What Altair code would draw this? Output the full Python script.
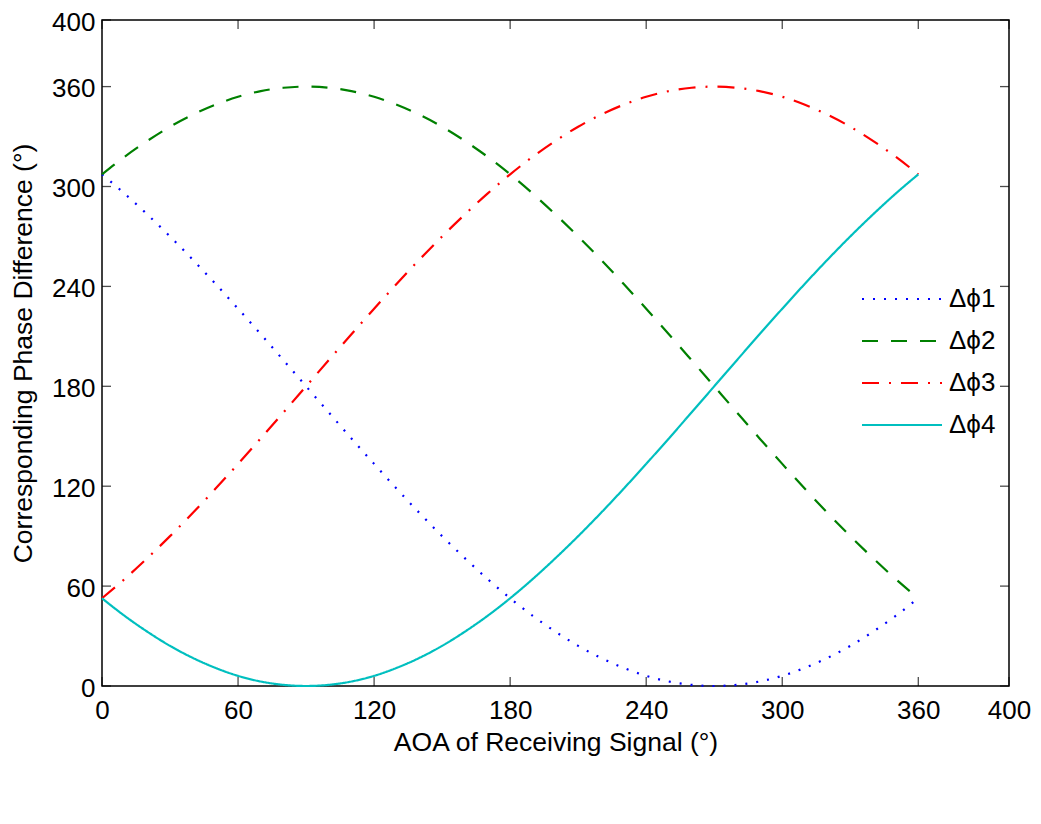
import altair as alt
import pandas as pd

# AOA sampled every 10 degrees
aoa = list(range(0, 361, 10))

dphi1 = [307.3, 295.7, 283.2, 270, 256.1, 241.6, 226.6, 211.3, 195.7, 180, 164.3, 148.7, 133.4,
         118.4, 103.9, 90, 76.8, 64.3, 52.7, 42.1, 32.6, 24.1, 16.9, 10.9, 6.1, 2.7, 0.7, 0,
         0.7, 2.7, 6.1, 10.9, 16.9, 24.1, 32.6, 42.1, 52.7]
dphi2 = [307.3, 317.9, 327.4, 335.9, 343.1, 349.1, 353.9, 357.3, 359.3, 360, 359.3, 357.3, 353.9,
         349.1, 343.1, 335.9, 327.4, 317.9, 307.3, 295.7, 283.2, 270, 256.1, 241.6, 226.6, 211.3,
         195.7, 180, 164.3, 148.7, 133.4, 118.4, 103.9, 90, 76.8, 64.3, 52.7]
dphi3 = [52.7, 64.3, 76.8, 90, 103.9, 118.4, 133.4, 148.7, 164.3, 180, 195.7, 211.3, 226.6,
         241.6, 256.1, 270, 283.2, 295.7, 307.3, 317.9, 327.4, 335.9, 343.1, 349.1, 353.9, 357.3,
         359.3, 360, 359.3, 357.3, 353.9, 349.1, 343.1, 335.9, 327.4, 317.9, 307.3]
dphi4 = [52.7, 42.1, 32.6, 24.1, 16.9, 10.9, 6.1, 2.7, 0.7, 0, 0.7, 2.7, 6.1, 10.9, 16.9, 24.1,
         32.6, 42.1, 52.7, 64.3, 76.8, 90, 103.9, 118.4, 133.4, 148.7, 164.3, 180, 195.7, 211.3,
         226.6, 241.6, 256.1, 270, 283.2, 295.7, 307.3]

series_names = ["Δϕ1", "Δϕ2", "Δϕ3", "Δϕ4"]
series_colors = ["#0000ff", "#008000", "#ff0000", "#00bfbf"]
series_dashes = [[2, 9], [16, 13], [17, 10, 2, 10], [1, 0]]

x_ticks = [0, 60, 120, 180, 240, 300, 360, 400]
y_ticks = [0, 60, 120, 180, 240, 300, 360, 400]

rows = []
for name, vals in zip(series_names, [dphi1, dphi2, dphi3, dphi4]):
    for a, v in zip(aoa, vals):
        rows.append({"aoa": a, "phase": v, "series": name})
df = pd.DataFrame(rows)

W, H = 907, 666
FONT = "Liberation Sans"
TL = 9  # tick length


def make_legend():
    return alt.Legend(title=None, orient="none", legendX=752, legendY=266,
                      symbolType="M-8,0L8,0", symbolSize=100, symbolStrokeWidth=2.2,
                      symbolOffset=35, labelOffset=34,
                      labelFontSize=26, labelFont=FONT, rowPadding=16,
                      labelColor="black")


xscale = alt.Scale(domain=[0, 400], nice=False, zero=False)
yscale = alt.Scale(domain=[0, 400], nice=False, zero=False)

lines = alt.Chart(df).mark_line(strokeWidth=2.2, interpolate="monotone").encode(
    x=alt.X("aoa:Q", scale=xscale,
            axis=alt.Axis(values=x_ticks, title="AOA of Receiving Signal (°)",
                          labelPadding=11, titlePadding=6, labelFlush=False,
                          labelOverlap=False)),
    y=alt.Y("phase:Q", scale=yscale,
            axis=alt.Axis(values=y_ticks, title="Corresponding Phase Difference (°)",
                          labelPadding=7, titlePadding=14, labelOffset=2,
                          labelFlush=False, labelOverlap=False)),
    color=alt.Color("series:N",
                    scale=alt.Scale(domain=series_names, range=series_colors),
                    legend=make_legend()),
    strokeDash=alt.StrokeDash("series:N",
                              scale=alt.Scale(domain=series_names, range=series_dashes),
                              legend=make_legend()),
)

xt = pd.DataFrame({"t": x_ticks})
yt = pd.DataFrame({"t": y_ticks})

bottom_ticks = alt.Chart(xt).mark_tick(color="black", size=TL, thickness=1.3).encode(
    x=alt.X("t:Q", scale=xscale), y=alt.value(H - TL / 2))
top_ticks = alt.Chart(xt).mark_tick(color="black", size=TL, thickness=1.3).encode(
    x=alt.X("t:Q", scale=xscale), y=alt.value(TL / 2))
left_ticks = alt.Chart(yt).mark_tick(color="black", size=TL, thickness=1.3).encode(
    y=alt.Y("t:Q", scale=yscale), x=alt.value(TL / 2))
right_ticks = alt.Chart(yt).mark_tick(color="black", size=TL, thickness=1.3).encode(
    y=alt.Y("t:Q", scale=yscale), x=alt.value(W - TL / 2))

chart = alt.layer(lines, bottom_ticks, top_ticks, left_ticks, right_ticks).properties(
    width=W, height=H,
    background="white",
    autosize=alt.AutoSizeParams(type="none"),
    padding={"left": 94, "top": 12, "right": 23, "bottom": 90},
).configure_view(
    stroke="black", strokeWidth=1.5
).configure_axis(
    domain=False, grid=False, ticks=False,
    labelFont=FONT, titleFont=FONT, labelFontSize=26, titleFontSize=26.5,
    titleFontWeight="normal", labelColor="black", titleColor="black",
)

chart.save("out.html", embed_options={"renderer": "svg", "actions": False})
